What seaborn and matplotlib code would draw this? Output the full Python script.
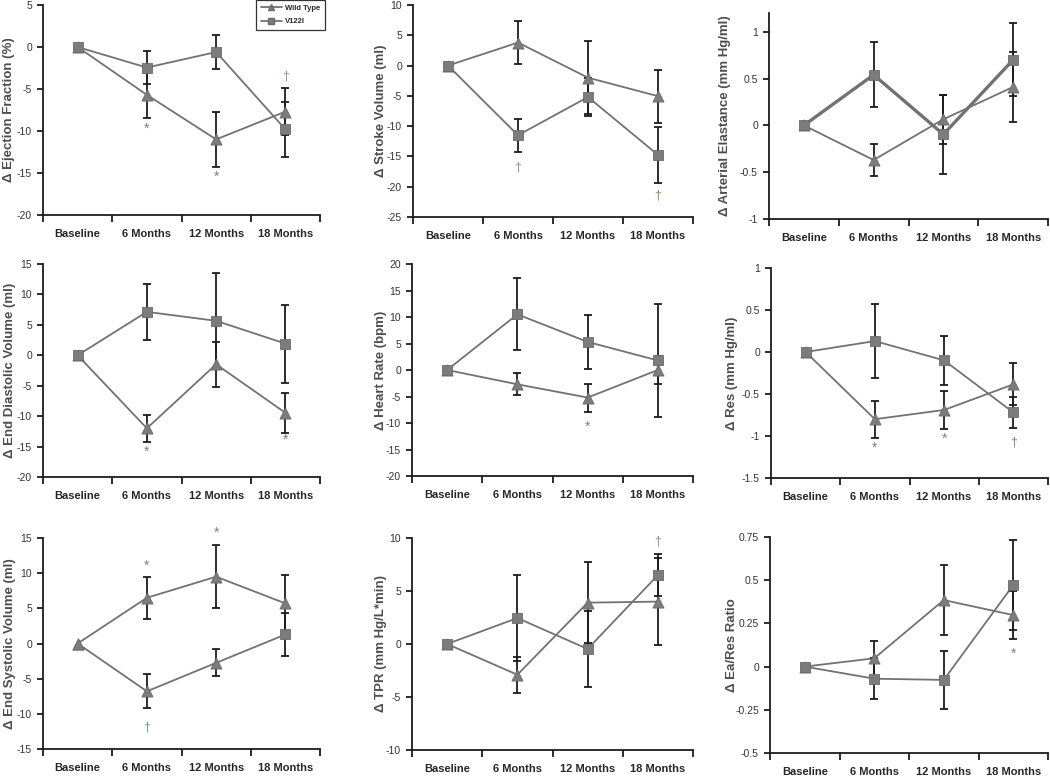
import matplotlib.pyplot as plt
import pandas as pd
import numpy as np
import seaborn as sns
from matplotlib.lines import Line2D

categories = ['Baseline', '6 Months', '12 Months', '18 Months']
groups = ['Wild Type', 'V122I']

# values (mean change, +/- error)
ef_wt = [0, -5.7, -11.0, -7.7]
ef_wt_err = [0, 2.7, 3.3, 2.8]
ef_v = [0, -2.45, -0.6, -9.8]
ef_v_err = [0, 2.0, 2.05, 3.3]

sv_wt = [0, 3.8, -2.0, -5.05]
sv_wt_err = [0, 3.6, 6.0, 4.35]
sv_v = [0, -11.5, -5.2, -14.75]
sv_v_err = [0, 2.75, 3.2, 4.6]

ea_wt = [0, -0.37, 0.065, 0.41]
ea_wt_err = [0, 0.17, 0.26, 0.37]
ea_v = [0, 0.54, -0.096, 0.70]
ea_v_err = [0, 0.345, 0.42, 0.39]

edv_wt = [0, -12.0, -1.48, -9.45]
edv_wt_err = [0, 2.2, 3.7, 3.3]
edv_v = [0, 7.14, 5.66, 1.92]
edv_v_err = [0, 4.6, 7.9, 6.4]

hr_wt = [0, -2.7, -5.2, 0.0]
hr_wt_err = [0, 2.05, 2.65, 2.7]
hr_v = [0, 10.5, 5.3, 1.8]
hr_v_err = [0, 6.8, 5.1, 10.7]

res_wt = [0, -0.80, -0.69, -0.385]
res_wt_err = [0, 0.22, 0.23, 0.25]
res_v = [0, 0.13, -0.10, -0.72]
res_v_err = [0, 0.445, 0.29, 0.19]

esv_wt = [0, 6.5, 9.5, 5.7]
esv_wt_err = [0, 3.0, 4.5, 4.1]
esv_v = [0, -6.8, -2.75, 1.28]
esv_v_err = [0, 2.4, 1.9, 3.1]

tpr_wt = [0, -2.9, 3.9, 4.0]
tpr_wt_err = [0, 1.7, 3.85, 4.1]
tpr_v = [0, 2.45, -0.47, 6.5]
tpr_v_err = [0, 4.1, 3.6, 2.0]

ratio_wt = [0, 0.048, 0.385, 0.298]
ratio_wt_err = [0, 0.10, 0.205, 0.14]
ratio_v = [0, -0.07, -0.077, 0.472]
ratio_v_err = [0, 0.12, 0.17, 0.26]

# significance marks: (category index, y, symbol, colour)
ef_marks = [(1, -9.7, '*', '#7f7f7f'), (2, -15.4, '*', '#7f7f7f'), (3, -3.5, '\u2020', '#7e93ad')]
sv_marks = [(1, -16.8, '\u2020', '#7093b8'), (3, -21.5, '\u2020', '#a08060')]
ea_marks = []
edv_marks = [(1, -15.9, '*', '#7f7f7f'), (3, -13.9, '*', '#7f7f7f')]
hr_marks = [(2, -10.8, '*', '#7f7f7f')]
res_marks = [(1, -1.14, '*', '#7f7f7f'), (2, -1.03, '*', '#7f7f7f'), (3, -1.08, '\u2020', '#8c7f73')]
esv_marks = [(1, 11.1, '*', '#9a8070'), (2, 15.7, '*', '#7f7f7f'), (1, -11.9, '\u2020', '#6d9591')]
tpr_marks = [(3, 9.7, '\u2020', '#7e93ad')]
ratio_marks = [(3, 0.077, '*', '#7f7f7f')]

W, H = 1050, 780
LINE = '#727272'
MARK = '#7c7c7c'
DARK = '#1c1c1c'

# (label, wt, wt_err, v, v_err, marks, ylim, step, rect px [left, right, top, bottom], label centre x px)
panels = [
    ('\u0394 Ejection Fraction (%)', ef_wt, ef_wt_err, ef_v, ef_v_err, ef_marks, (-20, 5), 5, (43, 320, 5, 215), 8),
    ('\u0394 Stroke Volume (ml)', sv_wt, sv_wt_err, sv_v, sv_v_err, sv_marks, (-25, 10), 5, (413, 693, 5, 217), 380),
    ('\u0394 Arterial Elastance (mm Hg/ml)', ea_wt, ea_wt_err, ea_v, ea_v_err, ea_marks, (-1, 1.2), 0.5, (769, 1048, 13, 219), 724),
    ('\u0394 End Diastolic Volume (ml)', edv_wt, edv_wt_err, edv_v, edv_v_err, edv_marks, (-20, 15), 5, (43, 320, 264, 477), 9),
    ('\u0394 Heart Rate (bpm)', hr_wt, hr_wt_err, hr_v, hr_v_err, hr_marks, (-20, 20), 5, (412, 693, 264, 476), 380),
    ('\u0394 Res (mm Hg/ml)', res_wt, res_wt_err, res_v, res_v_err, res_marks, (-1.5, 1), 0.5, (771, 1048, 268, 478), 731),
    ('\u0394 End Systolic Volume (ml)', esv_wt, esv_wt_err, esv_v, esv_v_err, esv_marks, (-15, 15), 5, (43, 320, 538, 749), 9),
    ('\u0394 TPR (mm Hg/L*min)', tpr_wt, tpr_wt_err, tpr_v, tpr_v_err, tpr_marks, (-10, 10), 5, (412, 693, 538, 750), 380),
    ('\u0394 Ea/Res Ratio', ratio_wt, ratio_wt_err, ratio_v, ratio_v_err, ratio_marks, (-0.5, 0.75), 0.25, (770, 1048, 537, 753), 731),
]

sns.set_theme(style='white')
plt.rcParams['font.family'] = ['Liberation Sans', 'DejaVu Sans']

fig = plt.figure(figsize=(W / 100, H / 100), dpi=100)
pos = np.arange(len(categories)) + 0.5

for i, (label, wt, wt_err, v, v_err, marks, ylim, step, px, lab_x) in enumerate(panels):
    l, r, t, b = px
    ax = fig.add_axes([l / W, 1 - b / H, (r - l) / W, (b - t) / H])

    df = pd.DataFrame({
        'pos': np.concatenate([pos, pos]),
        'value': wt + v,
        'err': wt_err + v_err,
        'group': [groups[0]] * 4 + [groups[1]] * 4,
    })

    # the V122I line in the elastance panel is drawn heavier
    v_lw = 2.4 if i == 2 else 1.3
    for g, lw in zip(groups, [1.3, v_lw]):
        sub = df[df['group'] == g]
        sns.lineplot(data=sub, x='pos', y='value', color=LINE, linewidth=lw, sort=False, ax=ax, zorder=2)

    for g in groups:
        sub = df[(df['group'] == g) & (df['err'] > 0)]
        ax.errorbar(sub['pos'], sub['value'], yerr=sub['err'], fmt='none', ecolor=DARK,
                    elinewidth=1.3, capsize=3.2, capthick=1.3, zorder=3)

    wt_m = ['^'] * 4
    v_m = ['s'] * 4
    if i == 6:
        # the original figure plots the V122I end-systolic series with triangles
        v_m = ['^', '^', '^', 's']
    for g, mk in zip(groups, [wt_m, v_m]):
        sub = df[df['group'] == g].copy()
        sub['marker'] = mk
        for m, part in sub.groupby('marker'):
            sns.scatterplot(data=part, x='pos', y='value', marker=m, s=64 if m == '^' else 56,
                            color=MARK, edgecolor='#6a6a6a', linewidth=0.6, ax=ax, zorder=4, legend=False)

    for k, y, sym, c in marks:
        ax.text(pos[k], y, sym, ha='center', va='center', fontsize=10 if sym == '*' else 9,
                color=c, clip_on=False)

    ax.set_xlim(0, 4)
    ax.set_ylim(*ylim)
    ax.set_xticks(np.arange(5))
    ax.set_xticklabels([])
    ax.set_xticks(pos, minor=True)
    ax.set_xticklabels(categories, minor=True, fontsize=8, fontweight='bold', color='#262626')
    ax.tick_params(axis='x', which='major', length=5, width=1.3, color=DARK, direction='out', bottom=True)
    ax.tick_params(axis='x', which='minor', length=0, pad=10)

    yt = np.arange(ylim[0], ylim[1] + step / 2, step)
    yt = yt[yt <= ylim[1] + 1e-9]
    if i == 2:
        yt = yt[yt <= 1.0 + 1e-9]
    ax.set_yticks(yt)
    ax.set_yticklabels([f'{y:g}' for y in yt], fontsize=7.5, color='#333333')
    ax.tick_params(axis='y', length=4, width=1.3, color=DARK, direction='out', left=True, pad=4)

    ax.set_xlabel('')
    ax.set_ylabel(label, fontsize=9.5, fontweight='bold', color='#4d4d4d')
    ax.yaxis.set_label_coords((lab_x + 7 - l) / (r - l), 0.5)

    sns.despine(ax=ax)
    for s in ['left', 'bottom']:
        ax.spines[s].set_color(DARK)
        ax.spines[s].set_linewidth(1.3)

    if i == 0:
        handles = [Line2D([], [], color=LINE, lw=1.3, marker='^', markersize=4.5, markerfacecolor=MARK, markeredgecolor='#6a6a6a'),
                   Line2D([], [], color=LINE, lw=1.3, marker='s', markersize=4, markerfacecolor=MARK, markeredgecolor='#6a6a6a')]
        leg = fig.legend(handles, groups, loc='upper right', bbox_to_anchor=(325 / W, 1.0),
                         frameon=True, fancybox=False, edgecolor='black', borderaxespad=0.0,
                         handlelength=2.8, borderpad=0.6, labelspacing=0.8, handletextpad=0.4,
                         prop={'weight': 'bold', 'size': 5.5})
        leg.get_frame().set_linewidth(0.9)

fig.savefig('out.png', dpi=100, facecolor='white')
